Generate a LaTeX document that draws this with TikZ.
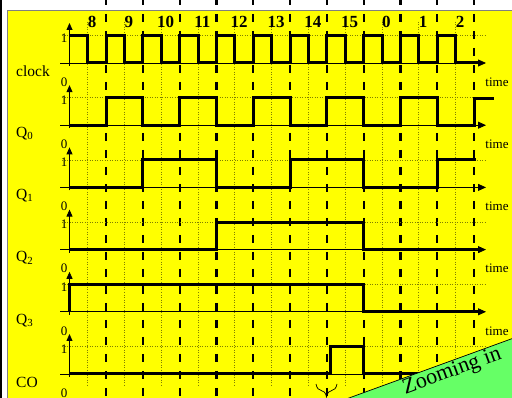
\documentclass[tikz,border=0pt]{standalone}
\usepackage{fontspec}
\setmainfont{Liberation Serif}
\usepackage{tikz}
\usetikzlibrary{arrows.meta,decorations.pathreplacing}
\definecolor{bgyellow}{HTML}{FFFF00}
\definecolor{zoomgreen}{HTML}{66FF66}
\definecolor{gridolive}{HTML}{7F7F00}
\tikzset{
  sig/.style={line width=3pt,black,line join=miter},
  taxis/.style={-{Triangle[length=8pt,width=7pt]},line width=0.8pt,black},
  vaxis/.style={-{Triangle[length=7pt,width=6pt]},line width=0.8pt,black},
  risedash/.style={black,line width=2.2pt,dash pattern=on 8pt off 9pt},
  falldot/.style={gridolive,line width=0.7pt,dash pattern=on 1pt off 1.5pt},
  lvl/.style={font=\fontsize{13}{13}\selectfont,inner sep=0pt},
  rowlab/.style={font=\fontsize{15.5}{15.5}\selectfont,inner sep=0pt,anchor=west}
}
\begin{document}
\begin{tikzpicture}[x=1pt,y=-1pt]
\useasboundingbox (0,0) rectangle (512,398);
\clip (0,0) rectangle (512,398);
% frame
\fill[white] (0,0) rectangle (512,398);
\fill[bgyellow] (7.5,10.5) rectangle (512,398);
\draw[gray,line width=0.8pt] (7.5,398) -- (7.5,10.5) -- (512,10.5);
\fill[black] (0,0) rectangle (2,398);
% clock edges: dashed = rising, dotted = falling
\foreach \k in {1,...,11}{
  \draw[risedash] ({69.2+36.8*\k},-3) -- ({69.2+36.8*\k},398);
  \draw[falldot] ({50.8+36.8*\k},22) -- ({50.8+36.8*\k},385);
}
\foreach \cnt [count=\k] in {8,9,10,11,12,13,14,15,0,1,2}
  \node[font=\fontsize{17}{17}\selectfont\bfseries,inner sep=0pt] (cnt\k) at ({55.2+36.8*\k},22) {\cnt};
% axes and labels of the rows
\foreach \nm [count=\r from 0] in {clock,Q\textsubscript{0},Q\textsubscript{1},Q\textsubscript{2},Q\textsubscript{3},CO}{
  \pgfmathsetmacro\yb{63+62.2*\r}
  \pgfmathsetmacro\yh{\yb-27.5}
  \draw[falldot] (62,\yh) -- (486,\yh);
  \draw[taxis] (60,\yb) -- (486,\yb);
  \draw[vaxis] (69.5,\yb+3) -- (69.5,\yb-40);
  \node[rowlab] (name\r) at (16,\yb+8.5) {\nm};
  \node[lvl,anchor=east] (one\r) at (67.5,\yh+2.5) {1};
  \node[lvl,anchor=east] (zero\r) at (67.5,\yb+19) {0};
  \ifnum\r<5 \node[lvl] (time\r) at (497,\yb+19) {time};\fi
}
% waveforms, x in half clock periods
\begin{scope}[shift={(69.2,0)},x=18.4pt]
\draw[sig] (0,35.5) \foreach \s in {0,2,...,18}{ -- (\s+1,35.5) -- (\s+1,63) -- (\s+2,63) -- (\s+2,35.5)} -- (21,35.5) -- (21,63) -- (22.2,63);
\draw[sig] (0,125.2) \foreach \s in {2,6,...,18}{ -- (\s,125.2) -- (\s,97.7) -- (\s+2,97.7) -- (\s+2,125.2)} -- (22,125.2) -- (22,99) -- (23.1,99);
\draw[sig] (0,187.4) \foreach \s in {4,12}{ -- (\s,187.4) -- (\s,159.9) -- (\s+4,159.9) -- (\s+4,187.4)} -- (20,187.4) -- (20,159.9) -- (22.1,159.9);
\draw[sig] (0,249.6) -- (8,249.6) -- (8,222.1) -- (16,222.1) -- (16,249.6) -- (22.2,249.6);
\draw[sig] (0,311.8) -- (0,284.3) -- (16,284.3) -- (16,311.8) -- (22.2,311.8);
\draw[sig] (0,374) -- (14.2,374) -- (14.2,346.5) -- (16,346.5) -- (16,374) -- (22.2,374);
\end{scope}
\draw[decorate,decoration={brace,amplitude=13pt,mirror},line width=0.7pt] (316,384) -- (337,384);
\node[draw=black,line width=0.7pt,fill=zoomgreen,rotate=20,anchor=north,inner sep=1pt,minimum width=330pt,text depth=45pt,font=\fontsize{22}{22}\selectfont] (zoomtag) at (448.5,361.4) {Zooming in};
\end{tikzpicture}
\end{document}
